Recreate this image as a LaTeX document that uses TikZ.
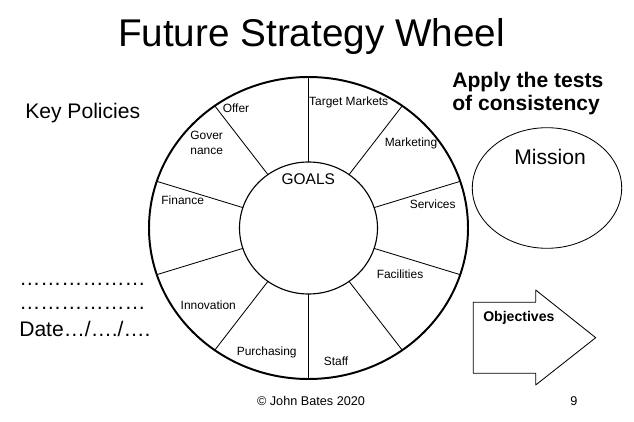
\documentclass[tikz,border=0pt]{standalone}
\usepackage{fontspec}
\setmainfont{Liberation Sans}
\usetikzlibrary{calc}
\usetikzlibrary{positioning}

\begin{document}
\begin{tikzpicture}[x=0.025cm,y=0.025cm,line cap=round,line join=round
  ,seg/.style={font=\fontsize{8.5}{9.5}\selectfont,inner sep=0mm,align=center}
  ,big/.style={font=\fontsize{15}{19}\selectfont,inner sep=0mm}
  ,spoke/.style={line width=0.6pt}]
\def\rxo{159.5}
\def\ryo{151}
\def\rxi{69}
\def\ryi{66}
\useasboundingbox (0,0) rectangle (634,422);
% title
\node[font=\fontsize{27.5}{30}\selectfont,inner sep=0mm,anchor=base] (title)
  at (311.5,375) {Future Strategy Wheel};
\node[big,anchor=base west] (keypol) at (25,303) {Key Policies};
% the wheel
\coordinate (C) at (308.5,194);
\draw[line width=1.4pt] (C) ellipse ({\rxo} and {\ryo});
\draw[line width=0.8pt] (C) ellipse ({\rxi} and {\ryi});
\foreach \a in {90,54,...,-234}
  \draw[spoke] ($ (C)+(\a:{\rxi} and {\ryi}) $) -- ($ (C)+(\a:{\rxo} and {\ryo}) $);
\node[font=\fontsize{11}{12}\selectfont,inner sep=0mm] (goals) at (308.3,242.7) {GOALS};
\node[seg] (offer) at (236,313.7) {Offer};
\node[seg] (target) at (348.7,319.7) {Target Markets};
\node[seg] (mark) at (411,278.7) {Marketing};
\node[seg] (serv) at (432.7,217.3) {Services};
\node[seg] (facil) at (400,148) {Facilities};
\node[seg] (staff) at (336,61) {Staff};
\node[seg] (purch) at (266.7,69.3) {Purchasing};
\node[seg] (innov) at (208.3,116.3) {Innovation};
\node[seg] (fin) at (182.7,221.7) {Finance};
\node[seg,font=\fontsize{8.5}{10.2}\selectfont] (gov) at (206.7,279) {Gover\\nance};
% tests
\node[big,font=\bfseries\fontsize{15}{16.4}\selectfont,align=left,anchor=base west]
  (tests) at (452,311) {Apply the tests\\of consistency};
\draw[line width=0.6pt] (547,234) coordinate (M) ellipse (74.7 and 60.3);
\node[big] (mission) at (550,265) {Mission};
\draw[line width=0.6pt] (473.3,119.7) -- (535.7,119.7) -- (535.7,132)
  -- (595.7,84.3) -- (535.7,37) -- (535.7,48.7) -- (473.3,48.7) -- cycle;
\node[font=\bfseries\fontsize{10}{11}\selectfont,inner sep=0mm,anchor=west]
  (obj) at (483,104.5) {Objectives};
% left notes
\node[big,anchor=base west] (dots1) at (19,136) {………………};
\node[big,anchor=base west] (dots2) at (19,112.5) {………………};
\node[big,anchor=base west] (date) at (19,85) {Date…/…./….};
% footer
\node[font=\fontsize{9}{10}\selectfont,inner sep=0mm] (copy) at (311,21) {© John Bates 2020};
\node[font=\fontsize{9}{10}\selectfont,inner sep=0mm] (page) at (574,21) {9};

\end{tikzpicture}
\end{document}
